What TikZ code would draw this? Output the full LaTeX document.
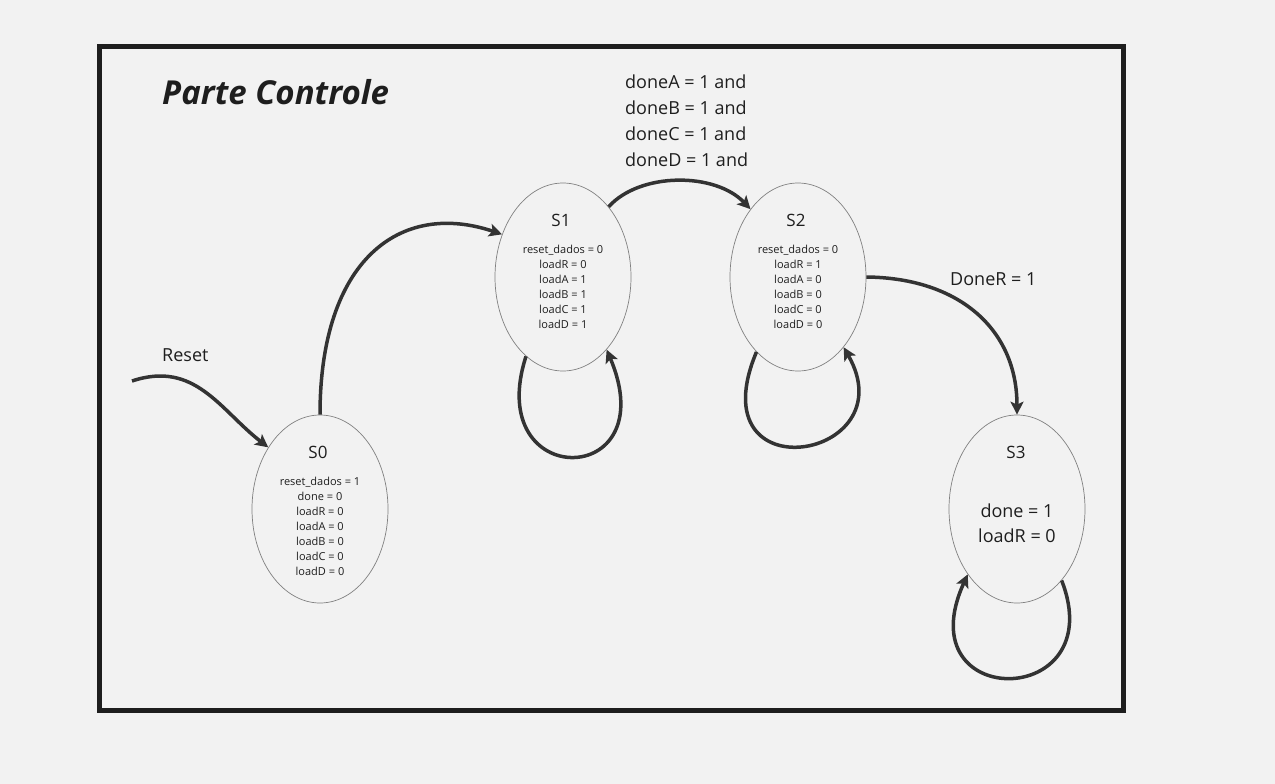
\documentclass[tikz,border=0pt]{standalone}
\usepackage{fontspec}
\setmainfont{Open Sans}
\usetikzlibrary{shapes.geometric,arrows.meta}
\definecolor{bg}{HTML}{F2F2F2}
\definecolor{framec}{HTML}{1E1E1E}
\definecolor{edgec}{HTML}{333333}
\definecolor{ellc}{HTML}{808080}
\definecolor{txtc}{HTML}{1E1E1E}
\begin{document}
\begin{tikzpicture}[x=1pt,y=-1pt,
  state/.style={ellipse,draw=ellc,line width=0.7pt,fill=bg,minimum width=136pt,minimum height=188pt,inner sep=0pt},
  trans/.style={draw=edgec,line width=3.5pt,-{Stealth[length=13pt,width=13pt,inset=3pt]}},
  big/.style={font=\fontsize{18}{25}\selectfont,text=txtc,inner sep=0pt},
  small/.style={font=\fontsize{11}{15}\selectfont,text=txtc,inner sep=0pt,align=center},
  lbl/.style={font=\fontsize{17}{20}\selectfont,text=txtc,inner sep=0pt},
  frameline/.style={draw=framec,line width=5pt}]
\fill[bg] (0,0) rectangle (1275,784);
\useasboundingbox (0,0) rectangle (1275,784);
\draw[frameline] (99,47) rectangle (1123,710);
\node[anchor=base west,inner sep=0pt,text=txtc,font=\fontsize{33}{40}\selectfont\bfseries\itshape] (title) at (162,104) {Parte Controle};

\node[state] (s0) at (320,509) {};
\node[state] (s1) at (563,277) {};
\node[state] (s2) at (798,277) {};
\node[state] (s3) at (1017,509) {};

\node[lbl,anchor=base] (s0l) at (318,458) {S0};
\node[lbl,anchor=base] (s1l) at (561,226) {S1};
\node[lbl,anchor=base] (s2l) at (796,226) {S2};
\node[lbl,anchor=base] (s3l) at (1016,458) {S3};

\node[small,anchor=north] (s0t) at (320,477) {reset\_dados = 1\\done = 0\\loadR = 0\\loadA = 0\\loadB = 0\\loadC = 0\\loadD = 0};
\node[small,anchor=north] (s1t) at (563,245) {reset\_dados = 0\\loadR = 0\\loadA = 1\\loadB = 1\\loadC = 1\\loadD = 1};
\node[small,anchor=north] (s2t) at (798,245) {reset\_dados = 0\\loadR = 1\\loadA = 0\\loadB = 0\\loadC = 0\\loadD = 0};
\node[big,align=center,anchor=north] (s3t) at (1017,504) {done = 1\\loadR = 0};

\node[big,font=\fontsize{18}{26}\selectfont,align=left,anchor=north west] (cond) at (625,75) {doneA = 1 and\\doneB = 1 and\\doneC = 1 and\\doneD = 1 and};
\node[big,anchor=base west] (donerl) at (950,285) {DoneR = 1};
\node[big,anchor=base west] (resetl) at (162,361) {Reset};

\coordinate (rst) at (132,381);
\draw[trans] (rst) .. controls (195,360) and (220,410) .. (s0.130);
\draw[trans] (s0.90) .. controls (320,260) and (400,200) .. (s1.145);
\draw[trans] (s1.57) .. controls (640,172) and (715,172) .. (s2.125);
\draw[trans] (s2.0) .. controls (960,278) and (1017,330) .. (s3.90);
\draw[trans] (s1.245) .. controls (482,492) and (666,490) .. (s1.301);
\draw[trans] (s2.241) .. controls (696,496) and (908,460) .. (s2.303);
\draw[trans] (s3.302) .. controls (1112,710) and (905,712) .. (s3.233);
\end{tikzpicture}
\end{document}
